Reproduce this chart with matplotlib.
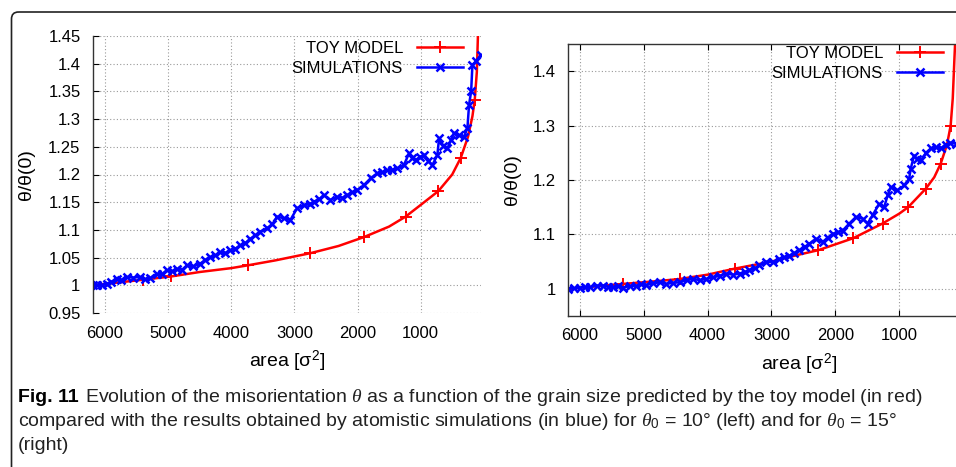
import numpy as np
import matplotlib
matplotlib.use("Agg")
import matplotlib.pyplot as plt
from matplotlib.patches import FancyBboxPatch

plt.rcParams['font.family'] = ['Liberation Sans', 'DejaVu Sans']
plt.rcParams['mathtext.fontset'] = 'custom'
plt.rcParams['mathtext.rm'] = 'Liberation Sans'
plt.rcParams['mathtext.it'] = 'Liberation Serif:italic'

# ---- data ----
# left panel (theta0 = 10 deg)
toy_left_area = [6190, 5800, 5400, 4950, 4500, 4000, 3741, 3300, 2746, 2300, 1899, 1500,
                 1238, 1000, 720, 500, 365, 250, 180, 143, 110, 90]
toy_left_theta = [1.000, 1.005, 1.010, 1.016, 1.024, 1.031, 1.036, 1.045, 1.058, 1.071, 1.087, 1.106,
                  1.124, 1.145, 1.170, 1.200, 1.230, 1.268, 1.305, 1.335, 1.385, 1.46]
toy_left_marks = [0, 2, 3, 6, 8, 10, 12, 14, 16, 19]

sim_left_area = [6185, 6120, 6050, 5974, 5900, 5815, 5740, 5656, 5550, 5444, 5360, 5286, 5180, 5100,
                 5021, 4940, 4862, 4780, 4704, 4600, 4492, 4410, 4333, 4250, 4175, 4100, 4016, 3940,
                 3857, 3780, 3698, 3620, 3540, 3434, 3350, 3275, 3169, 3063, 2958, 2852, 2760, 2693,
                 2610, 2534, 2429, 2323, 2240, 2164, 2080, 2005, 1899, 1794, 1688, 1610, 1529, 1450,
                 1370, 1265, 1185, 1130, 1079, 1010, 947, 880, 815, 735, 709, 640, 577, 520, 471,
                 390, 312, 259, 233, 200, 180, 120, 48]
sim_left_theta = [1.000, 1.001, 1.000, 1.003, 1.006, 1.012, 1.010, 1.015, 1.014, 1.015, 1.011, 1.013,
                  1.021, 1.020, 1.027, 1.025, 1.030, 1.028, 1.036, 1.034, 1.039, 1.046, 1.051, 1.054,
                  1.060, 1.058, 1.063, 1.066, 1.072, 1.076, 1.084, 1.090, 1.097, 1.103, 1.110, 1.124,
                  1.121, 1.118, 1.139, 1.145, 1.146, 1.151, 1.155, 1.163, 1.154, 1.160, 1.158, 1.163,
                  1.168, 1.172, 1.181, 1.193, 1.202, 1.204, 1.208, 1.209, 1.211, 1.217, 1.238, 1.230,
                  1.226, 1.232, 1.235, 1.225, 1.217, 1.235, 1.265, 1.252, 1.247, 1.262, 1.275, 1.271,
                  1.268, 1.284, 1.326, 1.350, 1.398, 1.405, 1.416]

# right panel (theta0 = 15 deg)
toy_right_area = [6190, 5700, 5323, 4800, 4437, 4000, 3578, 3000, 2600, 2266, 1719, 1260, 1000,
                  859, 583, 450, 349, 250, 193, 160, 135, 120]
toy_right_theta = [1.000, 1.005, 1.009, 1.014, 1.018, 1.026, 1.037, 1.050, 1.062, 1.071, 1.093, 1.120,
                   1.138, 1.150, 1.184, 1.205, 1.230, 1.265, 1.300, 1.350, 1.420, 1.46]
toy_right_marks = [0, 2, 4, 6, 9, 10, 11, 13, 14, 16, 18]

sim_right_area = [6193, 6100, 6000, 5920, 5844, 5740, 5635, 5560, 5479, 5400, 5323, 5220, 5115, 5040,
                  4958, 4850, 4750, 4646, 4540, 4437, 4330, 4229, 4120, 4021, 3917, 3810, 3708, 3600,
                  3500, 3420, 3344, 3260, 3188, 3083, 2979, 2875, 2800, 2719, 2640, 2563, 2480, 2406,
                  2302, 2198, 2120, 2042, 1960, 1885, 1781, 1677, 1573, 1495, 1417, 1313, 1234, 1180,
                  1130, 1026, 922, 844, 818, 766, 720, 661, 580, 505, 430, 349, 271, 200, 115]
sim_right_theta = [1.000, 1.001, 1.002, 1.004, 1.003, 1.006, 1.006, 1.004, 1.003, 1.005, 1.002, 1.005,
                   1.006, 1.008, 1.007, 1.010, 1.012, 1.009, 1.011, 1.012, 1.016, 1.018, 1.016, 1.018,
                   1.021, 1.024, 1.028, 1.026, 1.028, 1.031, 1.034, 1.038, 1.043, 1.050, 1.049, 1.055,
                   1.058, 1.061, 1.066, 1.071, 1.077, 1.083, 1.092, 1.086, 1.094, 1.101, 1.104, 1.107,
                   1.120, 1.132, 1.129, 1.120, 1.135, 1.156, 1.150, 1.172, 1.187, 1.181, 1.190, 1.202,
                   1.221, 1.245, 1.238, 1.236, 1.250, 1.258, 1.260, 1.258, 1.265, 1.268, 1.267]

left_yticks = [0.95, 1.0, 1.05, 1.1, 1.15, 1.2, 1.25, 1.3, 1.35, 1.4, 1.45]
left_ylabels = ['0.95', '1', '1.05', '1.1', '1.15', '1.2', '1.25', '1.3', '1.35', '1.4', '1.45']
right_yticks = [1.0, 1.1, 1.2, 1.3, 1.4]
right_ylabels = ['1', '1.1', '1.2', '1.3', '1.4']
xticks = [6000, 5000, 4000, 3000, 2000, 1000]

W, H = 956, 467
fig = plt.figure(figsize=(W / 100, H / 100), dpi=100)

# background axes in pixel units for the frame and the caption
bg = fig.add_axes([0, 0, 1, 1], zorder=-5)
bg.set_xlim(0, W)
bg.set_ylim(H, 0)
bg.axis('off')
bg.add_patch(FancyBboxPatch((11.5, 12), 1200, 700, boxstyle="round,pad=0,rounding_size=7",
                            fill=False, ec='#222222', lw=1.2))


def make_panel(rect, toy_a, toy_t, toy_m, sim_a, sim_t, xlim, yticks, ylabels, boxed):
    ax = fig.add_axes([rect[0] / W, 1 - rect[3] / H, (rect[2] - rect[0]) / W, (rect[3] - rect[1]) / H])
    ax.plot(toy_a, toy_t, color='#ff0000', lw=1.8, marker='+', ms=8, mew=1.4,
            markevery=toy_m, label='TOY MODEL')
    ax.plot(sim_a, sim_t, color='#0000ff', lw=1.8, marker='x', ms=6, mew=1.8,
            label='SIMULATIONS')
    ax.set_xlim(*xlim)
    ax.set_ylim(0.95, 1.45)
    ax.set_xticks(xticks)
    ax.set_xticklabels([str(v) for v in xticks])
    ax.set_yticks(yticks)
    ax.set_yticklabels(ylabels)
    ax.grid(True, color='#999999', ls=(0, (1, 2)), lw=0.8)
    ax.tick_params(direction='in', labelsize=12, length=4, width=0.8)
    ax.tick_params(axis='x', pad=9)
    ax.tick_params(axis='y', pad=9)
    for s in ax.spines.values():
        s.set_linewidth(1.0)
        s.set_color('#333333')
    if boxed:
        ax.tick_params(top=True, right=True)
        ax.spines['right'].set_visible(False)
    else:
        for s in ['top', 'right', 'bottom']:
            ax.spines[s].set_visible(False)
        ax.tick_params(bottom=False)
    ax.set_xlabel('area [σ${}^{2}$]', fontsize=14, labelpad=6)
    ax.set_ylabel('θ/θ(0)', fontsize=14)
    return ax


ax1 = make_panel((93, 36, 481, 313), toy_left_area, toy_left_theta, toy_left_marks,
                 sim_left_area, sim_left_theta, (6190, 44), left_yticks, left_ylabels, False)
ax1.yaxis.set_label_coords(-58 / 388, 0.5)
ax2 = make_panel((568, 44, 1030, 316), toy_right_area, toy_right_theta, toy_right_marks,
                 sim_right_area, sim_right_theta, (6187, -1050), right_yticks, right_ylabels, True)
ax2.yaxis.set_label_coords(-47 / 462, 0.5)

for ax, xr, ytop in [(ax1, 463, 41), (ax2, 943, 46)]:
    ax.legend(loc='upper right', bbox_to_anchor=(xr / W, 1 - ytop / H), bbox_transform=fig.transFigure,
              markerfirst=False, frameon=False, fontsize=12, handlelength=2.75, handletextpad=0.85,
              labelspacing=0.3, borderpad=0, borderaxespad=0)

# caption, sized so that the first line spans the frame like in the figure
cap_font = 'Liberation Sans'
cs = 12
fig.canvas.draw()
r = fig.canvas.get_renderer()
t0 = bg.text(18, 397, 'Fig. 11', fontsize=cs, fontweight='bold', family=cap_font, va='center')
line1 = bg.text(0, 397, r'Evolution of the misorientation $\theta$ as a function of the grain size predicted by the toy model (in red)',
                fontsize=cs, family=cap_font, va='center', color='#222222')
w_total = t0.get_window_extent(r).width + 6 + line1.get_window_extent(r).width
cs = min(cs * 932 / w_total, 14)
t0.set_fontsize(cs)
line1.set_fontsize(cs)
line1.set_x(18 + t0.get_window_extent(r).width + 6)
bg.text(18, 421, r'compared with the results obtained by atomistic simulations (in blue) for $\theta_0$ = 10° (left) and for $\theta_0$ = 15°',
        fontsize=cs, family=cap_font, va='center', color='#222222')
bg.text(18, 445, '(right)', fontsize=cs, family=cap_font, va='center', color='#222222')

fig.savefig('out.png', dpi=100)
